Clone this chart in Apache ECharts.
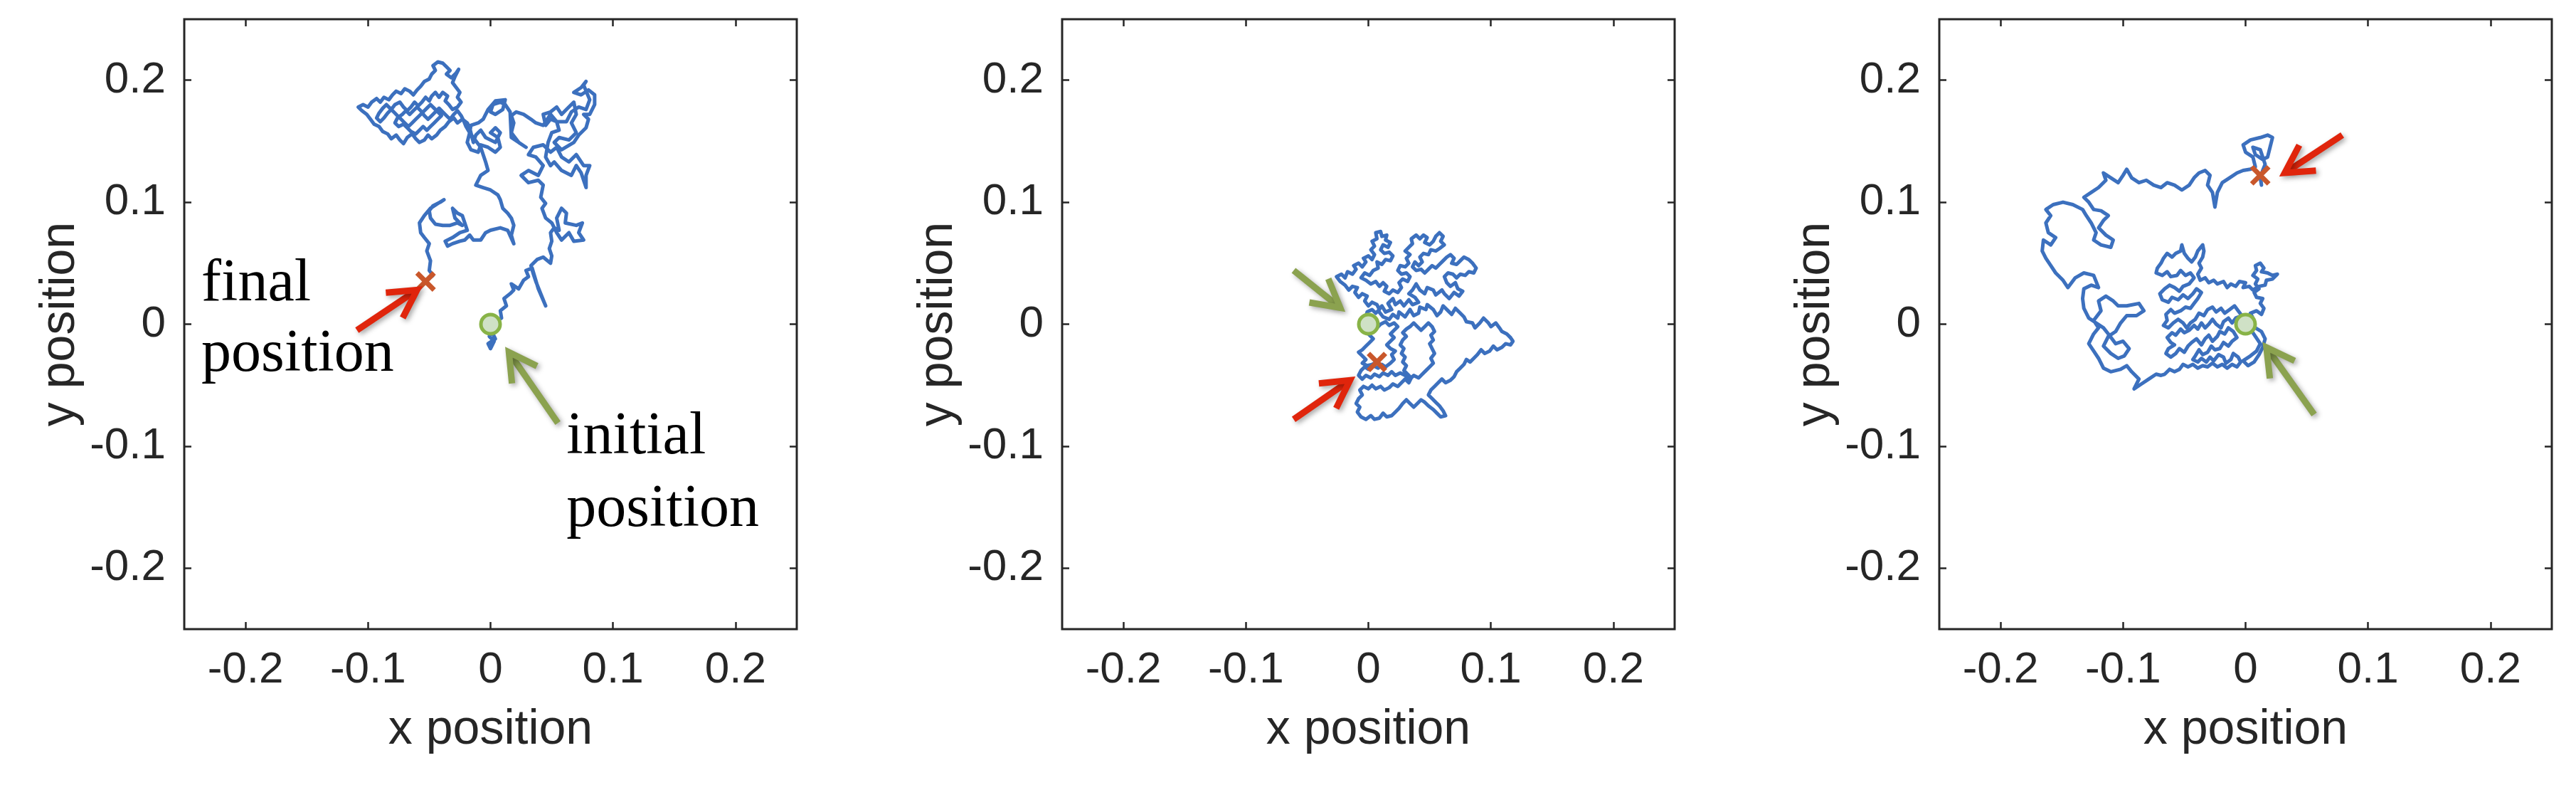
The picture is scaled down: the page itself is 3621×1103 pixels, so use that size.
<!DOCTYPE html>
<html>
<head>
<meta charset="utf-8">
<script src="https://cdn.jsdelivr.net/npm/echarts@6/dist/echarts.min.js"></script>
<style>
html,body{margin:0;padding:0;background:#fff;}
#chart{width:3621px;height:1103px;}
</style>
</head>
<body>
<div id="chart"></div>
<script>
// ---------- data ----------
var tickValues = [-0.2, -0.1, 0, 0.1, 0.2];
var axisRange = [-0.25, 0.25];
var xTitle = 'x position';
var yTitle = 'y position';

var walk1 = [
[0,0],[0.002,-0.005],[-0.001,-0.010],[0.003,-0.014],[0.000,-0.020],[-0.002,-0.016],[0.004,-0.012],[0.001,-0.006],[0.006,-0.002],[0.004,0.002],[0.009,0.005],[0.008,0.011],[0.013,0.015],[0.011,0.021],[0.016,0.025],[0.019,0.028],[0.017,0.033],[0.023,0.029],[0.027,0.036],[0.031,0.039],[0.029,0.044],[0.034,0.046],
[0.039,0.029],[0.045,0.015],[0.041,0.025],[0.037,0.035],[0.035,0.041],
[0.033,0.048],[0.038,0.053],[0.043,0.055],[0.049,0.050],[0.050,0.056],[0.048,0.062],[0.050,0.068],[0.049,0.075],[0.052,0.079],[0.056,0.077],[0.054,0.087],[0.058,0.095],[0.062,0.091],[0.061,0.083],[0.070,0.081],[0.075,0.083],[0.072,0.075],[0.076,0.069],[0.068,0.068],[0.064,0.075],[0.058,0.069],[0.054,0.075],[0.050,0.083],[0.045,0.087],[0.042,0.095],[0.045,0.099],[0.041,0.104],[0.043,0.114],[0.039,0.118],[0.031,0.116],[0.025,0.122],[0.031,0.126],[0.039,0.122],[0.043,0.130],[0.037,0.137],[0.031,0.139],[0.035,0.145],[0.043,0.147],[0.049,0.141],[0.054,0.145],[0.058,0.137],[0.064,0.133],[0.070,0.139],[0.076,0.130],[0.081,0.130],[0.078,0.122],[0.078,0.112],[0.074,0.124],[0.070,0.130],[0.066,0.122],[0.058,0.126],[0.052,0.133],[0.049,0.130],[0.045,0.137],[0.047,0.149],[0.050,0.157],[0.056,0.159],[0.054,0.166],[0.049,0.168],[0.045,0.163],[0.043,0.172],[0.049,0.174],[0.054,0.178],[0.058,0.172],[0.062,0.176],[0.068,0.182],[0.070,0.172],[0.066,0.165],[0.070,0.157],[0.064,0.151],[0.056,0.153],[0.052,0.149],[0.058,0.143],[0.068,0.149],[0.072,0.155],[0.078,0.161],[0.080,0.168],[0.076,0.172],[0.081,0.172],[0.085,0.180],[0.085,0.188],[0.080,0.192],[0.074,0.188],[0.068,0.190],[0.074,0.194],[0.078,0.199],[0.076,0.196],[0.081,0.184],[0.078,0.176],[0.072,0.178],[0.066,0.174],[0.062,0.166],[0.054,0.166],[0.049,0.172],[0.043,0.163],[0.037,0.165],[0.033,0.168],[0.027,0.172],[0.021,0.174],[0.017,0.171],[0.019,0.165],[0.017,0.157],[0.023,0.149],[0.029,0.145],[0.017,0.153],
[0.016,0.174],[0.012,0.180],[0.008,0.182],[0.002,0.180],[0.000,0.174],[0.004,0.172],[0.010,0.176],[0.012,0.184],[0.004,0.183],[-0.002,0.176],[-0.006,0.168],[-0.010,0.165],[-0.016,0.163],[-0.017,0.157],[-0.019,0.149],[-0.016,0.143],[-0.010,0.141],[-0.008,0.147],[-0.002,0.145],[0.004,0.141],[0.008,0.145],[0.006,0.153],[0.000,0.157],[0.004,0.161],[0.008,0.157],[0.004,0.149],[-0.004,0.153],[-0.008,0.159],[-0.012,0.155],[-0.014,0.149],[-0.017,0.161],[-0.019,0.165],
[-0.023,0.168],[-0.027,0.165],[-0.030,0.169],[-0.034,0.166],[-0.037,0.162],[-0.041,0.159],[-0.044,0.155],[-0.048,0.152],[-0.051,0.155],[-0.054,0.151],[-0.058,0.149],[-0.061,0.152],[-0.064,0.156],[-0.068,0.153],[-0.071,0.148],[-0.074,0.151],[-0.077,0.155],[-0.081,0.152],[-0.084,0.156],[-0.088,0.158],[-0.091,0.162],[-0.095,0.164],[-0.098,0.168],[-0.101,0.172],[-0.105,0.175],[-0.108,0.178],[-0.104,0.180],[-0.100,0.178],[-0.097,0.182],[-0.093,0.185],[-0.090,0.182],[-0.087,0.186],[-0.083,0.184],[-0.080,0.188],[-0.077,0.191],[-0.073,0.189],[-0.070,0.193],[-0.066,0.191],[-0.063,0.188],[-0.060,0.192],[-0.057,0.195],[-0.054,0.199],[-0.050,0.201],[-0.048,0.205],[-0.045,0.208],[-0.047,0.212],[-0.043,0.215],[-0.039,0.214],[-0.036,0.211],[-0.033,0.208],[-0.036,0.205],[-0.032,0.202],[-0.028,0.206],[-0.026,0.209],[-0.029,0.203],[-0.031,0.198],[-0.028,0.194],[-0.025,0.190],[-0.027,0.186],[-0.024,0.182],[-0.027,0.178],[-0.031,0.176],[-0.034,0.180],[-0.037,0.183],[-0.035,0.187],[-0.039,0.190],[-0.042,0.186],[-0.045,0.190],[-0.048,0.187],[-0.050,0.183],[-0.053,0.186],[-0.056,0.182],[-0.059,0.179],[-0.062,0.182],[-0.065,0.178],[-0.068,0.175],[-0.071,0.178],[-0.074,0.182],[-0.078,0.180],[-0.081,0.176],[-0.084,0.173],[-0.087,0.169],[-0.090,0.166],[-0.093,0.169],[-0.091,0.173],[-0.088,0.177],[-0.085,0.180],[-0.082,0.177],[-0.079,0.174],[-0.076,0.171],[-0.073,0.168],[-0.070,0.165],[-0.067,0.162],[-0.064,0.165],[-0.061,0.168],[-0.058,0.171],[-0.055,0.174],[-0.052,0.177],[-0.049,0.180],[-0.046,0.177],[-0.043,0.174],[-0.040,0.171],[-0.043,0.168],[-0.046,0.165],[-0.049,0.162],[-0.052,0.159],[-0.055,0.162],[-0.058,0.159],[-0.061,0.156],[-0.065,0.158],[-0.068,0.161],[-0.071,0.164],[-0.075,0.162],[-0.078,0.165],[-0.076,0.169],[-0.072,0.172],[-0.069,0.175],[-0.066,0.172],[-0.063,0.175],[-0.060,0.178],[-0.057,0.175],[-0.054,0.171],[-0.051,0.168],[-0.048,0.171],[-0.045,0.174],[-0.042,0.177],[-0.039,0.174],[-0.036,0.171],[-0.033,0.168],[-0.030,0.172],[-0.027,0.175],[-0.024,0.171],[-0.022,0.167],[-0.020,0.162],[-0.017,0.157],
[-0.008,0.145],[-0.004,0.133],[-0.002,0.126],[-0.008,0.122],[-0.012,0.114],[-0.006,0.112],[0.000,0.110],[0.006,0.106],[0.008,0.102],[0.010,0.095],[0.014,0.091],[0.017,0.087],[0.019,0.081],[0.017,0.073],[0.019,0.066],[0.014,0.077],[0.008,0.079],[0.000,0.077],[-0.004,0.075],[-0.008,0.069],[-0.014,0.069],[-0.017,0.073],[-0.021,0.069],[-0.025,0.068],[-0.031,0.066],[-0.035,0.064],[-0.037,0.068],[-0.031,0.071],[-0.025,0.075],[-0.019,0.077],[-0.021,0.083],[-0.023,0.089],[-0.027,0.091],[-0.031,0.095],[-0.029,0.087],[-0.023,0.081],[-0.027,0.083],[-0.033,0.081],[-0.039,0.081],[-0.045,0.082],[-0.049,0.087],[-0.050,0.093],[-0.047,0.097],[-0.041,0.100],[-0.038,0.102],[-0.043,0.099],[-0.049,0.095],[-0.054,0.089],[-0.058,0.083],[-0.057,0.075],[-0.054,0.071],[-0.050,0.066],[-0.052,0.060],[-0.049,0.052],[-0.050,0.044],[-0.047,0.040],[-0.052,0.036],[-0.053,0.035]
];

var walk2 = [
[0,0],[0.004,0.003],[0.002,0.007],[-0.002,0.006],[-0.001,0.010],[0.003,0.012],[0.006,0.009],[0.009,0.012],[0.007,0.016],[0.003,0.018],[0,0.015],[-0.003,0.019],[-0.001,0.023],[-0.005,0.025],[-0.008,0.022],[-0.011,0.026],[-0.009,0.030],[-0.013,0.031],[-0.016,0.028],[-0.019,0.032],[-0.023,0.035],[-0.026,0.039],[-0.022,0.041],[-0.019,0.038],[-0.017,0.043],[-0.013,0.041],[-0.010,0.045],[-0.012,0.048],[-0.008,0.050],[-0.005,0.047],[-0.002,0.051],[-0.004,0.054],[0,0.056],[0.003,0.053],[0.005,0.057],[0.002,0.061],[0.005,0.064],[0.003,0.068],[0.007,0.070],[0.006,0.075],[0.010,0.076],[0.011,0.072],[0.015,0.073],[0.014,0.069],[0.018,0.067],[0.016,0.063],[0.012,0.065],[0.010,0.061],[0.013,0.058],[0.017,0.059],[0.020,0.056],[0.018,0.052],[0.014,0.053],[0.011,0.049],[0.007,0.051],[0.008,0.046],[0.004,0.044],[0.001,0.040],[-0.003,0.042],[-0.006,0.038],[-0.002,0.036],[0.002,0.033],[0.006,0.035],[0.009,0.031],[0.012,0.034],[0.015,0.031],[0.013,0.027],[0.017,0.025],[0.020,0.028],[0.024,0.026],[0.027,0.030],[0.025,0.034],[0.028,0.037],[0.032,0.035],[0.034,0.039],[0.031,0.042],[0.027,0.041],[0.024,0.044],[0.026,0.048],[0.030,0.047],[0.033,0.050],[0.031,0.054],[0.034,0.057],[0.030,0.060],[0.033,0.063],[0.036,0.066],[0.035,0.070],[0.039,0.073],[0.042,0.070],[0.045,0.073],[0.048,0.071],[0.046,0.067],[0.050,0.065],[0.053,0.068],[0.055,0.072],[0.058,0.075],[0.061,0.072],[0.059,0.068],[0.062,0.065],[0.058,0.062],[0.055,0.060],[0.051,0.061],[0.049,0.057],[0.045,0.058],[0.042,0.055],[0.044,0.051],[0.041,0.048],[0.038,0.051],[0.036,0.047],[0.039,0.044],[0.043,0.045],[0.046,0.042],[0.049,0.045],[0.052,0.048],[0.055,0.046],[0.058,0.049],[0.061,0.052],[0.064,0.055],[0.067,0.057],[0.070,0.054],[0.068,0.050],[0.072,0.049],[0.075,0.052],[0.078,0.055],[0.082,0.053],[0.085,0.050],[0.088,0.046],[0.086,0.042],[0.082,0.043],[0.079,0.040],[0.075,0.041],[0.072,0.038],[0.069,0.041],[0.065,0.042],
[0.062,0.039],[0.064,0.034],[0.067,0.031],[0.071,0.034],[0.073,0.029],[0.077,0.027],[0.074,0.023],[0.070,0.026],[0.066,0.021],[0.062,0.025],[0.060,0.028],[0.055,0.024],[0.053,0.028],[0.048,0.030],[0.046,0.025],[0.042,0.028],[0.039,0.033],[0.036,0.028],[0.033,0.025],[0.038,0.022],[0.041,0.018],[0.036,0.016],[0.033,0.020],[0.029,0.015],[0.026,0.019],[0.022,0.016],[0.020,0.021],[0.016,0.017],[0.019,0.012],[0.014,0.010],[0.011,0.015],[0.008,0.011],[0.012,0.006],[0.017,0.004],[0.020,0.008],[0.024,0.005],[0.025,0.010],[0.030,0.006],[0.034,0.012],[0.037,0.007],[0.041,0.009],[0.042,0.014],[0.047,0.012],[0.048,0.016],[0.053,0.012],[0.056,0.007],[0.059,0.010],[0.061,0.015],[0.065,0.011],[0.068,0.008],[0.071,0.013],[0.075,0.009],[0.078,0.006],[0.080,0.002],[0.085,0.001],[0.087,-0.003],[0.091,0.001],[0.094,0.005],[0.098,0.001],[0.100,-0.002],[0.104,0.001],[0.107,-0.003],[0.109,-0.006],[0.113,-0.008],[0.116,-0.011],[0.118,-0.014],
[0.116,-0.017],[0.112,-0.016],[0.109,-0.019],[0.105,-0.021],[0.102,-0.018],[0.099,-0.022],[0.095,-0.024],[0.092,-0.021],[0.089,-0.025],[0.086,-0.028],[0.083,-0.031],[0.080,-0.029],[0.078,-0.033],[0.075,-0.036],[0.072,-0.039],[0.070,-0.043],[0.067,-0.046],[0.063,-0.048],[0.060,-0.045],[0.057,-0.048],[0.054,-0.051],[0.051,-0.054],[0.049,-0.058],[0.052,-0.061],[0.055,-0.064],[0.058,-0.067],[0.061,-0.071],[0.063,-0.075],[0.059,-0.076],[0.056,-0.073],[0.053,-0.070],[0.049,-0.067],[0.046,-0.064],[0.043,-0.062],[0.040,-0.065],[0.037,-0.068],[0.034,-0.065],[0.031,-0.062],[0.028,-0.065],[0.025,-0.069],[0.022,-0.072],[0.019,-0.075],[0.015,-0.076],[0.012,-0.073],[0.009,-0.077],[0.005,-0.078],[0.002,-0.075],[-0.002,-0.078],[-0.006,-0.076],[-0.009,-0.072],[-0.007,-0.068],[-0.010,-0.065],[-0.008,-0.061],[-0.005,-0.058],[-0.007,-0.054],[-0.004,-0.051],[0,-0.053],[0.003,-0.050],[0.006,-0.053],[0.010,-0.051],[0.013,-0.054],[0.017,-0.052],[0.020,-0.049],[0.024,-0.051],[0.027,-0.048],[0.030,-0.045],[0.033,-0.048],[0.035,-0.044],[0.032,-0.041],[0.029,-0.038],[0.031,-0.034],[0.028,-0.031],[0.030,-0.027],[0.027,-0.024],[0.029,-0.020],[0.026,-0.017],[0.028,-0.013],[0.031,-0.010],[0.028,-0.007],[0.031,-0.004],[0.034,-0.002],[0.037,0.001],[0.040,-0.002],[0.043,-0.005],[0.046,-0.002],[0.049,0.001],[0.052,-0.002],[0.054,-0.006],[0.051,-0.009],[0.053,-0.013],[0.050,-0.016],[0.052,-0.020],[0.054,-0.024],[0.051,-0.028],[0.053,-0.032],[0.050,-0.035],[0.047,-0.038],[0.044,-0.041],[0.041,-0.044],[0.037,-0.042],[0.034,-0.045],[0.030,-0.042],[0.026,-0.040],[0.022,-0.042],[0.019,-0.039],[0.016,-0.042],[0.012,-0.040],[0.009,-0.043],[0.005,-0.041],[0.002,-0.044],[-0.002,-0.042],[-0.005,-0.045],[-0.008,-0.042],[-0.006,-0.038],[-0.003,-0.035],[0,-0.037],[0.004,-0.034],[0.008,-0.036],[0.011,-0.033],[0.014,-0.035],[0.018,-0.032],[0.021,-0.029],[0.019,-0.025],[0.022,-0.022],[0.018,-0.020],[0.015,-0.017],[0.018,-0.014],[0.021,-0.011],[0.018,-0.008],[0.021,-0.005],[0.024,-0.002],[0.021,0.001],[0.017,-0.001],[0.014,0.002],[0.010,0],[0.007,-0.003],[0.004,0],[0.001,-0.003],[-0.002,-0.006],[0.001,-0.009],[0.004,-0.012],[0.001,-0.015],[-0.002,-0.018],[-0.005,-0.021],[-0.008,-0.023],[-0.005,-0.026],[-0.002,-0.029],[-0.005,-0.032],[-0.001,-0.034],[0.003,-0.033],[0.007,-0.031]
];

var walk3 = [
[0,0],[0.004,-0.004],[0.008,-0.010],[0.012,-0.016],[0.009,-0.022],[0.004,-0.026],[-0.002,-0.030],[0.002,-0.034],[0.007,-0.031],[0.011,-0.025],[0.014,-0.019],[0.016,-0.012],[0.013,-0.006],[0.008,-0.003],
[0.003,0.001],[0.006,0.005],[0.004,0.009],[0.009,0.011],[0.013,0.008],[0.015,0.013],[0.012,0.017],[0.014,0.021],[0.009,0.022],[0.007,0.026],[0.011,0.029],[0.008,0.033],[0.010,0.037],[0.006,0.040],[0.009,0.044],[0.008,0.048],[0.012,0.050],[0.015,0.046],[0.013,0.043],[0.018,0.042],[0.022,0.040],[0.026,0.041],[0.022,0.037],[0.017,0.036],[0.016,0.032],[0.011,0.031],[0.006,0.028],[0.003,0.031],[-0.002,0.030],[0,0.034],[-0.005,0.035],[-0.008,0.031],[-0.012,0.033],[-0.015,0.030],[-0.018,0.035],[-0.023,0.033],[-0.026,0.036],[-0.030,0.034],[-0.033,0.038],[-0.037,0.036],[-0.039,0.041],[-0.036,0.046],[-0.038,0.050],[-0.035,0.055],[-0.034,0.060],[-0.035,0.065],[-0.039,0.060],[-0.041,0.055],[-0.044,0.051],[-0.047,0.054],[-0.050,0.058],[-0.052,0.065],[-0.053,0.060],[-0.057,0.058],[-0.060,0.055],[-0.064,0.058],[-0.067,0.054],[-0.069,0.050],[-0.072,0.046],[-0.073,0.042],[-0.068,0.040],[-0.064,0.043],[-0.061,0.039],[-0.056,0.040],[-0.053,0.044],[-0.049,0.040],[-0.045,0.042],[-0.042,0.038],[-0.046,0.033],[-0.051,0.031],[-0.054,0.027],[-0.058,0.030],[-0.062,0.032],[-0.066,0.029],[-0.070,0.025],[-0.068,0.020],[-0.063,0.018],[-0.060,0.022],[-0.055,0.020],[-0.051,0.024],[-0.047,0.021],[-0.043,0.025],[-0.040,0.029],[-0.036,0.026],[-0.039,0.021],[-0.042,0.017],[-0.045,0.013],[-0.049,0.014],[-0.053,0.011],[-0.058,0.009],[-0.061,0.012],[-0.065,0.008],[-0.064,0.003],[-0.067,-0.001],[-0.063,-0.003],[-0.059,0.001],[-0.055,0.004],[-0.051,0.001],[-0.048,-0.003],[-0.045,0.001],[-0.041,0.004],[-0.038,0.009],[-0.034,0.007],[-0.031,0.012],[-0.027,0.014],[-0.024,0.010],[-0.020,0.013],[-0.017,0.009],[-0.013,0.012],[-0.009,0.015],[-0.006,0.011],[-0.003,0.007],[-0.008,0.005],[-0.011,0.001],[-0.014,0.005],[-0.018,0.002],[-0.020,-0.003],[-0.024,0],[-0.027,0.004],[-0.030,0],[-0.033,-0.003],[-0.036,0.001],[-0.039,-0.004],[-0.042,-0.001],[-0.046,-0.005],[-0.050,-0.007],[-0.053,-0.004],[-0.057,-0.009],[-0.060,-0.007],[-0.064,-0.011],[-0.061,-0.015],[-0.058,-0.017],[-0.063,-0.020],[-0.065,-0.024],[-0.061,-0.027],[-0.057,-0.024],[-0.054,-0.020],[-0.050,-0.023],[-0.047,-0.018],[-0.044,-0.015],[-0.040,-0.012],[-0.036,-0.017],[-0.033,-0.012],[-0.030,-0.009],[-0.027,-0.014],[-0.023,-0.010],[-0.021,-0.006],[-0.017,-0.008],[-0.014,-0.003],[-0.010,-0.006],[-0.007,-0.011],[-0.011,-0.014],[-0.014,-0.018],[-0.018,-0.015],[-0.021,-0.020],[-0.025,-0.021],[-0.028,-0.018],[-0.031,-0.023],[-0.035,-0.025],[-0.038,-0.021],[-0.041,-0.026],[-0.043,-0.029],[-0.039,-0.031],[-0.036,-0.028],[-0.032,-0.031],[-0.029,-0.027],[-0.026,-0.030],[-0.022,-0.025],[-0.018,-0.027],[-0.016,-0.032],[-0.012,-0.029],[-0.010,-0.024],[-0.006,-0.027],[-0.004,-0.031],[-0.007,-0.035],[-0.011,-0.033],[-0.015,-0.036],[-0.019,-0.033],[-0.023,-0.035],[-0.027,-0.032],[-0.031,-0.035],[-0.035,-0.034],[-0.039,-0.036],[-0.043,-0.033],[-0.047,-0.035],[-0.051,-0.033],[-0.054,-0.037],[-0.058,-0.039],[-0.062,-0.037],[-0.066,-0.041],[-0.069,-0.042],
[-0.073,-0.041],[-0.079,-0.045],[-0.085,-0.049],[-0.091,-0.053],[-0.087,-0.045],[-0.093,-0.039],[-0.097,-0.034],[-0.102,-0.037],[-0.110,-0.039],[-0.116,-0.036],[-0.120,-0.028],[-0.124,-0.022],[-0.128,-0.016],[-0.124,-0.008],[-0.120,-0.003],[-0.124,0.003],[-0.118,0.011],[-0.120,0.019],[-0.114,0.023],[-0.108,0.019],[-0.104,0.015],[-0.097,0.015],[-0.087,0.017],[-0.083,0.011],[-0.089,0.007],[-0.097,0.007],[-0.102,0.001],[-0.106,-0.006],[-0.112,-0.010],[-0.116,-0.018],[-0.110,-0.024],[-0.104,-0.028],[-0.099,-0.026],[-0.095,-0.020],[-0.100,-0.014],[-0.106,-0.016],[-0.112,-0.008],[-0.116,-0.003],[-0.122,0.001],[-0.128,0.005],[-0.132,0.013],[-0.133,0.021],[-0.132,0.029],[-0.126,0.032],[-0.120,0.030],[-0.124,0.040],[-0.132,0.042],[-0.139,0.038],[-0.145,0.030],[-0.149,0.036],[-0.155,0.042],[-0.159,0.048],[-0.163,0.054],[-0.166,0.060],[-0.165,0.069],[-0.159,0.065],[-0.155,0.071],[-0.161,0.075],[-0.163,0.083],[-0.159,0.089],[-0.163,0.094],[-0.157,0.098],[-0.149,0.100],[-0.141,0.098],[-0.133,0.094],[-0.130,0.089],[-0.126,0.083],[-0.122,0.075],[-0.124,0.069],[-0.118,0.065],[-0.110,0.063],[-0.108,0.069],[-0.114,0.073],[-0.120,0.079],[-0.116,0.085],[-0.112,0.089],[-0.118,0.093],[-0.124,0.094],[-0.128,0.100],[-0.132,0.104],[-0.126,0.108],[-0.120,0.112],[-0.114,0.118],[-0.116,0.124],[-0.110,0.120],[-0.104,0.116],[-0.100,0.122],[-0.097,0.127],[-0.093,0.120],[-0.087,0.116],[-0.081,0.118],[-0.075,0.114],[-0.069,0.112],[-0.064,0.116],[-0.058,0.114],[-0.052,0.110],[-0.046,0.114],[-0.042,0.120],[-0.038,0.124],[-0.033,0.126],[-0.029,0.122],[-0.031,0.114],[-0.027,0.108],[-0.025,0.096],[-0.023,0.108],[-0.019,0.116],[-0.013,0.120],[-0.007,0.124],[-0.002,0.126],[0.004,0.127],[0.008,0.129],[0.006,0.137],[0.000,0.141],[-0.002,0.147],[0.004,0.151],[0.012,0.153],[0.018,0.155],[0.022,0.153],[0.020,0.145],[0.018,0.137],[0.014,0.135],[0.008,0.139],[0.006,0.145],[0.012,0.143],[0.016,0.131],[0.014,0.126],[0.012,0.120],[0.013,0.114],[0.012,0.122]
];

var walks = [walk1, walk2, walk3];
var startPoints = [[0, 0], [0, 0], [0, 0]];
var endPoints = [[-0.053, 0.035], [0.007, -0.031], [0.012, 0.122]];

// arrows: [tailX, tailY, tipX, tipY]
var redArrows = [[-0.109, -0.005, -0.060, 0.028], [-0.061, -0.078, -0.015, -0.046], [0.079, 0.155, 0.032, 0.124]];
var greenArrows = [[0.055, -0.081, 0.015, -0.023], [-0.061, 0.044, -0.023, 0.0135], [0.056, -0.074, 0.017, -0.019]];

// panel-1 annotation lines: [left x, baseline y]
var noteText = ['final', 'position', 'initial', 'position'];
var notePos = [[-0.236, 0.0176], [-0.236, -0.040], [0.062, -0.108], [0.062, -0.167]];

// ---------- styling ----------
var AX = '#262626';
var LINE = '#3c70be';
var RED = '#e0250c';
var GREEN = '#8ba24f';
var SANS = '"Liberation Sans", Arial, Helvetica, sans-serif';
var SERIF = '"Liberation Serif", "Times New Roman", serif';
var gridLefts = [259, 1493, 2726];

var chart = echarts.init(document.getElementById('chart'), null, {renderer: 'canvas'});

function tickCfg() {
  return {show: true, inside: true, length: 10, customValues: tickValues, lineStyle: {color: AX, width: 2.5}};
}
function fmt(v) { return String(Math.round(v * 10) / 10); }
var noLine = {show: false, onZero: false};

var grids = [], xAxes = [], yAxes = [], series = [];
for (var i = 0; i < 3; i++) {
  grids.push({left: gridLefts[i], top: 27, width: 861, height: 857, show: true, borderColor: AX, borderWidth: 3,
    backgroundColor: 'transparent', containLabel: false, outerBoundsMode: 'none'});
  xAxes.push({type: 'value', gridIndex: i, min: axisRange[0], max: axisRange[1], position: 'bottom',
    axisLine: noLine, splitLine: {show: false}, axisTick: tickCfg(),
    axisLabel: {show: true, customValues: tickValues, formatter: fmt, margin: 27, fontSize: 62, color: AX, fontFamily: SANS},
    name: xTitle, nameLocation: 'middle', nameGap: 108,
    nameTextStyle: {fontSize: 68, color: AX, fontFamily: SANS}});
  xAxes.push({type: 'value', gridIndex: i, min: axisRange[0], max: axisRange[1], position: 'top',
    axisLine: noLine, splitLine: {show: false}, axisTick: tickCfg(), axisLabel: {show: false}});
  yAxes.push({type: 'value', gridIndex: i, min: axisRange[0], max: axisRange[1], position: 'left',
    axisLine: noLine, splitLine: {show: false}, axisTick: tickCfg(),
    axisLabel: {show: true, customValues: tickValues, formatter: fmt, margin: 26, fontSize: 62, color: AX, fontFamily: SANS},
    name: yTitle, nameLocation: 'middle', nameGap: 140,
    nameTextStyle: {fontSize: 68, color: AX, fontFamily: SANS}});
  yAxes.push({type: 'value', gridIndex: i, min: axisRange[0], max: axisRange[1], position: 'right',
    axisLine: noLine, splitLine: {show: false}, axisTick: tickCfg(), axisLabel: {show: false}});

  series.push({type: 'line', xAxisIndex: 2 * i, yAxisIndex: 2 * i, data: walks[i], showSymbol: false, symbol: 'none',
    lineStyle: {color: LINE, width: 5, join: 'round', cap: 'round'}, silent: true, z: 2, animation: false});

  series.push({type: 'scatter', xAxisIndex: 2 * i, yAxisIndex: 2 * i, data: [startPoints[i]], symbol: 'circle', symbolSize: 27,
    itemStyle: {color: '#cfe1c6', borderColor: '#88b347', borderWidth: 5, opacity: 1}, silent: true, z: 4, animation: false});

  series.push({type: 'custom', xAxisIndex: 2 * i, yAxisIndex: 2 * i, data: [endPoints[i]], silent: true, z: 5, animation: false,
    renderItem: function (params, api) {
      var p = api.coord([api.value(0), api.value(1)]);
      var s = 12;
      var st = {stroke: '#c9572b', lineWidth: 7, lineCap: 'butt'};
      return {type: 'group', children: [
        {type: 'line', shape: {x1: p[0] - s, y1: p[1] - s, x2: p[0] + s, y2: p[1] + s}, style: st},
        {type: 'line', shape: {x1: p[0] - s, y1: p[1] + s, x2: p[0] + s, y2: p[1] - s}, style: st}
      ]};
    }});

  [[redArrows[i], RED], [greenArrows[i], GREEN]].forEach(function (pair) {
    var col = pair[1];
    series.push({type: 'custom', xAxisIndex: 2 * i, yAxisIndex: 2 * i, data: [pair[0]], silent: true, z: 6, animation: false,
      clip: false, encode: {x: [0, 2], y: [1, 3]},
      renderItem: function (params, api) {
        var p0 = api.coord([api.value(0), api.value(1)]);
        var p1 = api.coord([api.value(2), api.value(3)]);
        var ang = Math.atan2(p1[1] - p0[1], p1[0] - p0[0]);
        var L = 44, a = Math.PI / 6.2;
        var h1 = [p1[0] - L * Math.cos(ang - a), p1[1] - L * Math.sin(ang - a)];
        var h2 = [p1[0] - L * Math.cos(ang + a), p1[1] - L * Math.sin(ang + a)];
        var e = [p1[0] - 6 * Math.cos(ang), p1[1] - 6 * Math.sin(ang)];
        var st = {stroke: col, fill: null, lineWidth: 9, lineJoin: 'miter', lineCap: 'butt',
          shadowBlur: 7, shadowColor: 'rgba(0,0,0,0.35)', shadowOffsetX: 3, shadowOffsetY: 3};
        return {type: 'group', children: [
          {type: 'line', shape: {x1: p0[0], y1: p0[1], x2: e[0], y2: e[1]}, style: st},
          {type: 'polyline', shape: {points: [h1, p1, h2]}, style: st}
        ]};
      }});
  });
}

// annotation text (panel 1)
series.push({type: 'custom', xAxisIndex: 0, yAxisIndex: 0, data: notePos, silent: true, z: 7, animation: false, clip: false,
  renderItem: function (params, api) {
    var p = api.coord([api.value(0), api.value(1)]);
    var fs = 84;
    return {type: 'text', style: {text: noteText[params.dataIndex], x: p[0], y: p[1] - 0.3 * fs,
      font: fs + 'px ' + SERIF, fill: '#000', align: 'left', verticalAlign: 'middle'}};
  }});

chart.setOption({
  animation: false,
  backgroundColor: '#ffffff',
  grid: grids,
  xAxis: xAxes,
  yAxis: yAxes,
  series: series
});
</script>
</body>
</html>
